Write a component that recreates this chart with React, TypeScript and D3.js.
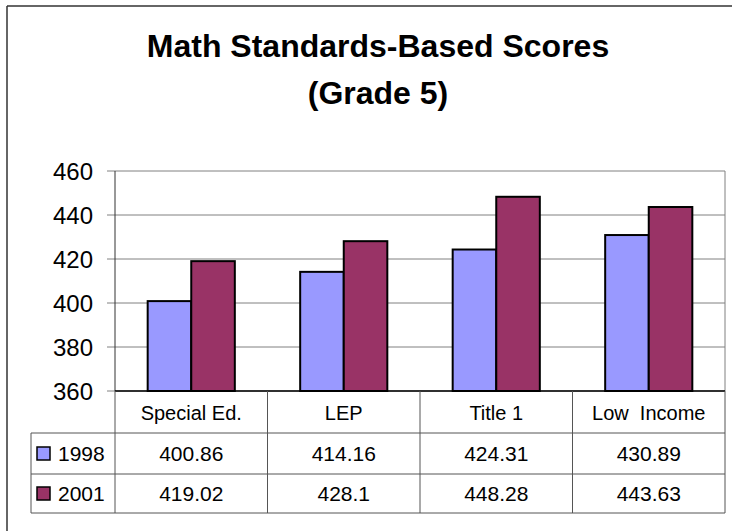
import React from "react";
import * as d3 from "d3";

const categories = ["Special Ed.", "LEP", "Title 1", "Low  Income"];
const seriesNames = ["1998", "2001"];
const values1998 = [400.86, 414.16, 424.31, 430.89];
const values2001 = [419.02, 428.1, 448.28, 443.63];
const valueLabels1998 = ["400.86", "414.16", "424.31", "430.89"];
const valueLabels2001 = ["419.02", "428.1", "448.28", "443.63"];
const yTicks = [360, 380, 400, 420, 440, 460];
const seriesColors = ["#9999FF", "#993366"];
const titleLines = ["Math Standards-Based Scores", "(Grade 5)"];

const W = 732;
const H = 531;
const plotLeft = 115;
const plotRight = 725;
const plotTop = 171;
const plotBottom = 391;
const tableLeft = 31;
const rowLines = [433, 474, 513];
const FONT = "Arial, 'Liberation Sans', Helvetica, sans-serif";

export default function App() {
  const y = d3.scaleLinear().domain([360, 460]).range([plotBottom, plotTop]);
  const x = d3.scaleBand<string>().domain(categories).range([plotLeft, plotRight]).paddingInner(0).paddingOuter(0);
  const inner = d3.scaleBand<string>().domain(seriesNames).range([0, x.bandwidth()]).paddingInner(0).paddingOuter(0.75);
  const seriesValues = [values1998, values2001];
  const seriesLabels = [valueLabels1998, valueLabels2001];

  const bars: React.ReactNode[] = [];
  seriesNames.forEach((s, si) => {
    categories.forEach((c, ci) => {
      const v = seriesValues[si][ci];
      const bx = (x(c) as number) + (inner(s) as number);
      bars.push(
        <rect key={s + c} x={bx} y={y(v)} width={inner.bandwidth()} height={y(360) - y(v)}
          fill={seriesColors[si]} stroke="#000" strokeWidth={2} />
      );
    });
  });

  const boundaries = categories.map((c) => x(c) as number).concat([plotRight]);

  return (
    <svg width={W} height={H} style={{ position: "absolute", left: 0, top: 0, background: "#fff" }} fontFamily={FONT}>
      <rect x={0} y={0} width={W} height={H} fill="#fff" />
      {/* outer chart frame */}
      <line x1={7} y1={6} x2={W + 2} y2={6} stroke="#333" strokeWidth={1.5} />
      <line x1={7} y1={6} x2={7} y2={H + 2} stroke="#333" strokeWidth={1.5} />
      {/* title */}
      {titleLines.map((t, i) => (
        <text key={t} x={378} y={57 + i * 47} textAnchor="middle" fontSize={32} fontWeight="bold" fill="#000">{t}</text>
      ))}
      {/* gridlines */}
      {yTicks.map((t) => (
        <line key={"g" + t} x1={plotLeft} x2={plotRight} y1={y(t)} y2={y(t)} stroke="#808080" strokeWidth={1} />
      ))}
      {/* plot border right */}
      <line x1={plotRight} x2={plotRight} y1={plotTop} y2={plotBottom} stroke="#808080" strokeWidth={1} />
      {/* y ticks and labels */}
      {yTicks.map((t) => (
        <g key={"t" + t}>
          <line x1={107} x2={plotLeft} y1={y(t)} y2={y(t)} stroke="#808080" strokeWidth={1} />
          <text x={93} y={y(t)} dy="0.36em" textAnchor="end" fontSize={24} fill="#000">{t}</text>
        </g>
      ))}
      {bars}
      {/* axes */}
      <line x1={plotLeft} x2={plotLeft} y1={plotTop} y2={plotBottom} stroke="#333" strokeWidth={1} />
      <line x1={plotLeft} x2={plotRight} y1={plotBottom} y2={plotBottom} stroke="#000" strokeWidth={1.5} />
      {/* data table */}
      {boundaries.map((bx, i) => (
        <line key={"v" + i} x1={bx} x2={bx} y1={plotBottom} y2={rowLines[2]} stroke="#555" strokeWidth={1} />
      ))}
      {rowLines.map((ry, i) => (
        <line key={"h" + i} x1={tableLeft} x2={plotRight} y1={ry} y2={ry} stroke="#555" strokeWidth={1} />
      ))}
      <line x1={tableLeft} x2={tableLeft} y1={rowLines[0]} y2={rowLines[2]} stroke="#555" strokeWidth={1} />
      {categories.map((c) => (
        <text key={"c" + c} x={(x(c) as number) + x.bandwidth() / 2} y={(plotBottom + rowLines[0]) / 2} dy="0.38em"
          textAnchor="middle" fontSize={20} fill="#000" style={{ whiteSpace: "pre" }}>{c}</text>
      ))}
      {seriesNames.map((s, si) => {
        const rowMid = (rowLines[si] + rowLines[si + 1]) / 2;
        return (
          <g key={"r" + s}>
            <rect x={37} y={rowMid - 6.5} width={13} height={13} fill={seriesColors[si]} stroke="#000" strokeWidth={1.5} />
            <text x={58} y={rowMid} dy="0.36em" fontSize={21} fill="#000">{s}</text>
            {categories.map((c, ci) => (
              <text key={c} x={(x(c) as number) + x.bandwidth() / 2} y={rowMid} dy="0.36em" textAnchor="middle" fontSize={21} fill="#000">
                {seriesLabels[si][ci]}
              </text>
            ))}
          </g>
        );
      })}
    </svg>
  );
}
